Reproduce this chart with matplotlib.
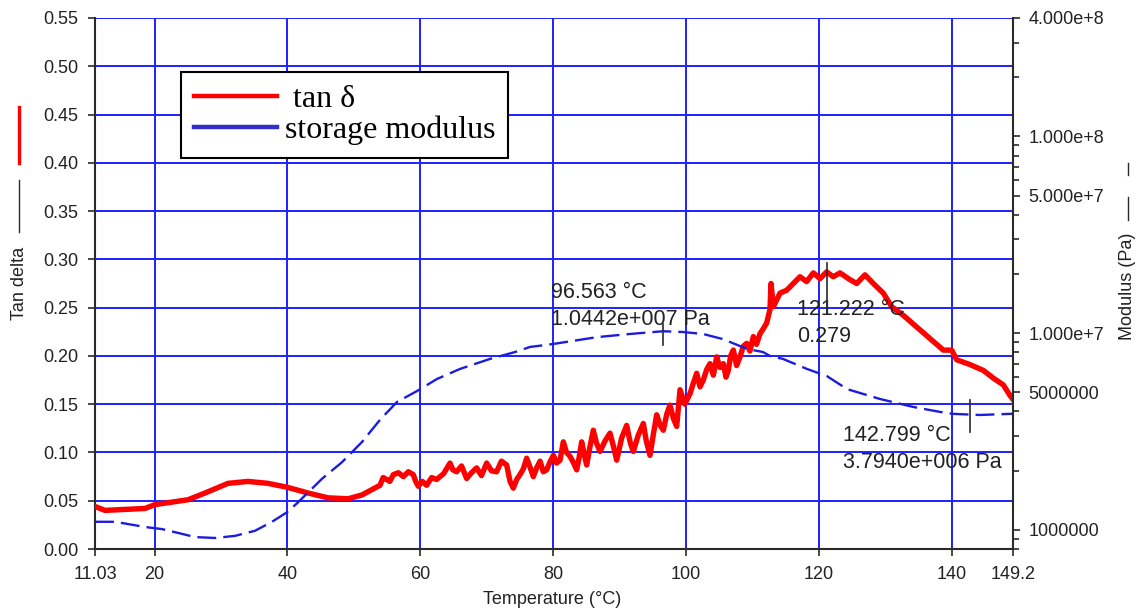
import numpy as np
import matplotlib.pyplot as plt
from matplotlib.lines import Line2D
from matplotlib.ticker import FixedLocator, NullFormatter

plt.rcParams['font.family'] = ['Liberation Sans', 'DejaVu Sans']

# tan delta vs temperature
temp_tan = [11.03, 12.54, 15.5, 18.56, 20.06, 25.03, 27.59, 31.05, 34.06, 37.07,
            39.93, 43.09, 46.10, 49.11, 51.22,
            53.93, 54.4, 54.93, 55.4, 55.93, 56.7, 57.44, 58.2, 58.94, 59.3,
            59.69, 60.3, 60.95, 61.7, 62.45, 63.5, 64.46, 64.9, 65.46, 66.2,
            66.97, 67.7, 68.47, 69.2, 69.98, 70.7, 71.48, 72.2, 72.99, 73.5,
            73.99, 74.5, 74.99, 75.5, 76.0, 76.5, 77.0, 77.5, 78.01, 78.5,
            79.01, 79.5, 80.02, 80.5, 81.02, 81.52, 82.0, 82.52, 83.0, 83.53,
            83.9, 84.28, 84.6, 85.03, 85.5, 86.03, 86.5, 87.04, 87.8, 88.54,
            89.0, 89.55, 90.3, 91.05, 91.6, 92.05, 92.8, 93.56, 94.0, 94.56,
            95.1, 95.57, 96.1, 96.57, 97.1, 97.57, 98.1, 98.58, 99.08, 99.8,
            100.59, 101.1, 101.59, 102.1, 102.59, 103.1, 103.6, 104.1, 104.6, 105.1,
            105.6, 106.0, 106.35, 106.7, 107.11, 107.6, 108.11, 108.6, 109.11, 109.6,
            110.12, 110.6, 111.12, 111.6, 112.12, 112.62,
            112.78, 113.13, 114.13, 115.13, 116.14, 117.14, 118.14, 119.15, 120.15, 121.15,
            122.15, 123.16, 124.66, 125.67, 126.92, 128.18, 129.68, 130.94, 132.69, 134.7,
            136.7, 138.71, 139.97, 140.72, 142.73, 144.74, 146.24, 147.74, 148.75, 149.2]
tan_delta = [0.044, 0.040, 0.041, 0.042, 0.046, 0.051, 0.058, 0.068, 0.070, 0.068,
             0.064, 0.058, 0.053, 0.052, 0.056,
             0.066, 0.074, 0.072, 0.070, 0.077, 0.079, 0.075, 0.080, 0.077, 0.070,
             0.065, 0.070, 0.066, 0.074, 0.072, 0.078, 0.089, 0.082, 0.080, 0.086,
             0.073, 0.079, 0.084, 0.076, 0.089, 0.081, 0.080, 0.091, 0.087, 0.070,
             0.063, 0.072, 0.077, 0.083, 0.094, 0.085, 0.075, 0.084, 0.091, 0.080,
             0.082, 0.090, 0.097, 0.089, 0.092, 0.111, 0.100, 0.096, 0.090, 0.082,
             0.095, 0.111, 0.100, 0.087, 0.105, 0.123, 0.110, 0.101, 0.112, 0.120,
             0.108, 0.092, 0.115, 0.128, 0.110, 0.101, 0.118, 0.130, 0.112, 0.097,
             0.120, 0.139, 0.128, 0.123, 0.140, 0.149, 0.135, 0.127, 0.165, 0.150,
             0.161, 0.172, 0.182, 0.168, 0.175, 0.186, 0.192, 0.180, 0.199, 0.188,
             0.192, 0.178, 0.185, 0.200, 0.206, 0.190, 0.199, 0.210, 0.213, 0.205,
             0.220, 0.212, 0.223, 0.228, 0.234, 0.248,
             0.275, 0.251, 0.265, 0.268, 0.275, 0.282, 0.277, 0.286, 0.280, 0.287,
             0.282, 0.286, 0.279, 0.275, 0.284, 0.275, 0.265, 0.251, 0.242, 0.230,
             0.218, 0.206, 0.206, 0.196, 0.191, 0.185, 0.177, 0.170, 0.159, 0.155]

# storage modulus (Pa) vs temperature
temp_mod = [11.03, 14.04, 18.56, 21.11, 24.12, 26.08, 29.09, 32.1, 35.11, 37.67,
            39.93, 41.58, 45.2, 48.21, 51.22, 53.93, 56.48, 59.49, 62.5, 65.96,
            70.48, 74.24, 76.5, 79.96, 86.59, 91.55, 96.52, 99.53, 102.54, 105.55,
            109.16, 111.57, 112.62, 114.58, 118.19, 121.2, 124.21, 129.18, 134.15, 138.21,
            140.17, 144.23, 148.75, 149.2]
modulus = [1.10e6, 1.10e6, 1.035e6, 1.01e6, 9.55e5, 9.2e5, 9.1e5, 9.33e5, 9.9e5, 1.10e6,
           1.23e6, 1.38e6, 1.82e6, 2.21e6, 2.80e6, 3.63e6, 4.47e6, 5.08e6, 5.85e6, 6.58e6,
           7.40e6, 8.02e6, 8.51e6, 8.81e6, 9.55e6, 9.91e6, 1.023e7, 1.014e7, 9.91e6, 9.33e6,
           8.32e6, 8.02e6, 7.66e6, 7.40e6, 6.58e6, 6.05e6, 5.20e6, 4.63e6, 4.22e6, 3.98e6,
           3.89e6, 3.84e6, 3.89e6, 3.89e6]

x_ticks = [11.03, 20, 40, 60, 80, 100, 120, 140, 149.2]
x_labels = ['11.03', '20', '40', '60', '80', '100', '120', '140', '149.2']
mod_ticks = [1e6, 5e6, 1e7, 5e7, 1e8, 4e8]
mod_labels = ['1000000', '5000000', '1.000e+7', '5.000e+7', '1.000e+8', '4.000e+8']

# cursor readouts: (temperature, value)
peak_mod = (96.563, 1.0442e7)
peak_tan = (121.222, 0.279)
end_mod = (142.799, 3.7940e6)

grid_blue = '#1f1fff'
dark = '#2a2a2a'

fig = plt.figure(figsize=(11.48, 6.12), dpi=100)
ax = fig.add_axes([95 / 1148, 63 / 612, 918 / 1148, 531 / 612])
ax2 = ax.twinx()

ax.plot(temp_tan, tan_delta, color='#ff0000', lw=3.9, zorder=3)
ax2.plot(temp_mod, modulus, color='#1c1ce0', lw=1.7, ls=(0, (8, 3)))

ax.set_xlim(11.03, 149.2)
ax.set_ylim(0, 0.55)
ax.set_xticks(x_ticks)
ax.set_xticklabels(x_labels)
ax.set_yticks(np.arange(0, 0.551, 0.05))
ax.set_yticklabels(['%.2f' % v for v in np.arange(0, 0.551, 0.05)])
ax.grid(True, color=grid_blue, lw=1.4)

ax2.set_yscale('log')
ax2.set_ylim(8e5, 4e8)
ax2.yaxis.set_major_locator(FixedLocator(mod_ticks))
ax2.set_yticklabels(mod_labels)
minor = [m * 10 ** e for e in range(5, 9) for m in range(1, 10)]
ax2.yaxis.set_minor_locator(FixedLocator([v for v in minor if 8e5 <= v <= 4e8 and v not in mod_ticks]))
ax2.yaxis.set_minor_formatter(NullFormatter())

for a in (ax, ax2):
    a.spines['top'].set_visible(False)
ax.spines['right'].set_visible(False)
ax2.spines['left'].set_visible(False)
for s in ('left', 'bottom'):
    ax.spines[s].set_color(dark)
    ax.spines[s].set_linewidth(1.5)
ax2.spines['right'].set_color(dark)
ax2.spines['right'].set_linewidth(1.5)
ax2.spines['bottom'].set_visible(False)

ax.tick_params(axis='both', direction='out', length=5, width=1.2, color=dark,
               labelsize=13, labelcolor='#222222', pad=7)
ax2.tick_params(axis='y', which='major', direction='out', length=5, width=1.2,
                color=dark, labelsize=13, labelcolor='#222222', pad=6)
ax2.tick_params(axis='y', which='minor', direction='out', length=4, width=1.2, color=dark)

# cursor markers and readouts
ax2.plot([peak_mod[0]] * 2, [peak_mod[1] * 1.07, peak_mod[1] * 0.83], color=dark, lw=1.2)
ax.plot([peak_tan[0]] * 2, [peak_tan[1] + 0.017, peak_tan[1] - 0.036], color=dark, lw=1.2, zorder=4)
ax2.plot([end_mod[0]] * 2, [end_mod[1] * 1.2, end_mod[1] / 1.2], color=dark, lw=1.2)

txt = dict(fontsize=15.5, color='#222222', va='baseline', ha='left')
ax.text(79.66, 0.260, '%.3f °C' % peak_mod[0], **txt)
ax.text(79.66, 0.232, '%.4fe+007 Pa' % (peak_mod[1] / 1e7), **txt)
ax.text(116.69, 0.2424, '%.3f °C' % peak_tan[0], **txt)
ax.text(116.69, 0.2144, '%.3f' % peak_tan[1], **txt)
ax.text(123.61, 0.1119, '%.3f °C' % end_mod[0], **txt)
ax.text(123.61, 0.0839, '%.4fe+006 Pa' % (end_mod[1] / 1e6), **txt)

# legend
handles = [Line2D([], [], color='#ff0000', lw=3.2),
           Line2D([], [], color='#3030c8', lw=3.2)]
leg = ax2.legend(handles, [' tan δ', 'storage modulus'], loc='upper left',
                 bbox_to_anchor=(0.0937, 0.8983), borderaxespad=0,
                 prop={'family': 'Liberation Serif', 'size': 23},
                 handlelength=2.6, handletextpad=0.25, borderpad=0.4,
                 labelspacing=0.05, fancybox=False, framealpha=1, edgecolor='black')
leg.get_frame().set_linewidth(1.5)

# axis titles
fig.text(552 / 1148, 1 - 600 / 612, 'Temperature (°C)', ha='center', va='center',
         fontsize=13, color='#222222')
fig.text(19 / 1148, 1 - 283 / 612, 'Tan delta', rotation=90, ha='center', va='center',
         fontsize=13, color='#222222')
fig.add_artist(Line2D([19 / 1148] * 2, [1 - 107 / 612, 1 - 163 / 612], color='#ff0000', lw=2.4))
fig.add_artist(Line2D([19 / 1148] * 2, [1 - 180 / 612, 1 - 232 / 612], color=dark, lw=1.0))
fig.text(1128 / 1148, 1 - 286 / 612, 'Modulus (Pa)', rotation=90, ha='center', va='center',
         fontsize=13, color='#222222')
fig.add_artist(Line2D([1128 / 1148] * 2, [1 - 197 / 612, 1 - 220 / 612], color=dark, lw=1.0))
fig.add_artist(Line2D([1128 / 1148] * 2, [1 - 163 / 612, 1 - 175 / 612], color=dark, lw=1.0))

fig.savefig('out.png', dpi=100)
